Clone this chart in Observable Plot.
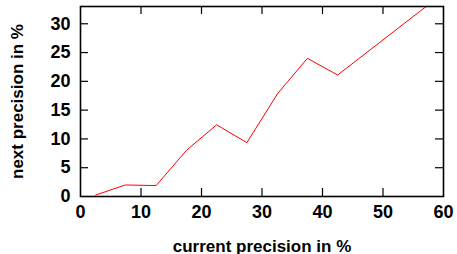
<!DOCTYPE html>
<html>
<head>
<meta charset="utf-8">
<script src="https://cdn.jsdelivr.net/npm/d3@7"></script>
<script src="https://cdn.jsdelivr.net/npm/@observablehq/plot@0.6"></script>
<style>
  html, body { margin: 0; padding: 0; background: #fff; }
</style>
</head>
<body>
<div id="chart"></div>
<script>
const currentPrecision = [2.5, 7.4, 12.5, 17.5, 22.5, 27.5, 32.6, 37.5, 42.5, 57.5];
const nextPrecision    = [0.25, 2.0, 1.9, 8.0, 12.45, 9.35, 17.9, 24.0, 21.1, 33.3];
const xTicks = [0, 10, 20, 30, 40, 50, 60];
const yTicks = [0, 5, 10, 15, 20, 25, 30];
const xLabel = "current precision in %";
const yLabel = "next precision in %";

const data = currentPrecision.map((x, i) => ({x, y: nextPrecision[i]}));

const W = 457, H = 254;
const mL = 80, mR = 14, mT = 6, mB = 58;
const pw = W - mL - mR, ph = H - mT - mB;
const tl = 8;

const chart = Plot.plot({
  width: W, height: H,
  marginLeft: mL, marginRight: mR, marginTop: mT, marginBottom: mB,
  style: {fontFamily: "'Liberation Sans', Arial, sans-serif", fontWeight: "bold", color: "#000", background: "#fff"},
  x: {domain: [0, 60]},
  y: {domain: [0, 33]},
  marks: [
    Plot.line(data, {x: "x", y: "y", stroke: "#ff0000", strokeWidth: 1, clip: true}),
    // inward ticks (bottom/top, left/right)
    Plot.ruleX(xTicks.slice(1, -1), {insetTop: ph - tl, stroke: "#000", strokeWidth: 1.2}),
    Plot.ruleX(xTicks.slice(1, -1), {insetBottom: ph - tl, stroke: "#000", strokeWidth: 1.2}),
    Plot.ruleY(yTicks.slice(1), {insetRight: pw - tl, stroke: "#000", strokeWidth: 1.2}),
    Plot.ruleY(yTicks.slice(1), {insetLeft: pw - tl, stroke: "#000", strokeWidth: 1.2}),
    Plot.axisX(xTicks, {tickSize: 0, tickPadding: 9, fontSize: 18, fontWeight: "bold", label: null}),
    Plot.axisY(yTicks, {tickSize: 0, tickPadding: 10, fontSize: 18, fontWeight: "bold", label: null}),
    Plot.axisX({ticks: [], tickSize: 0, label: xLabel, labelAnchor: "center", labelOffset: 55, labelArrow: "none", fontSize: 17, fontWeight: "bold"}),
    Plot.axisY({ticks: [], tickSize: 0, label: yLabel, labelAnchor: "center", labelOffset: 70, labelArrow: "none", fontSize: 17, fontWeight: "bold"}),
    Plot.frame({stroke: "#000", strokeWidth: 1.6})
  ]
});
document.getElementById("chart").appendChild(chart);
</script>
</body>
</html>
